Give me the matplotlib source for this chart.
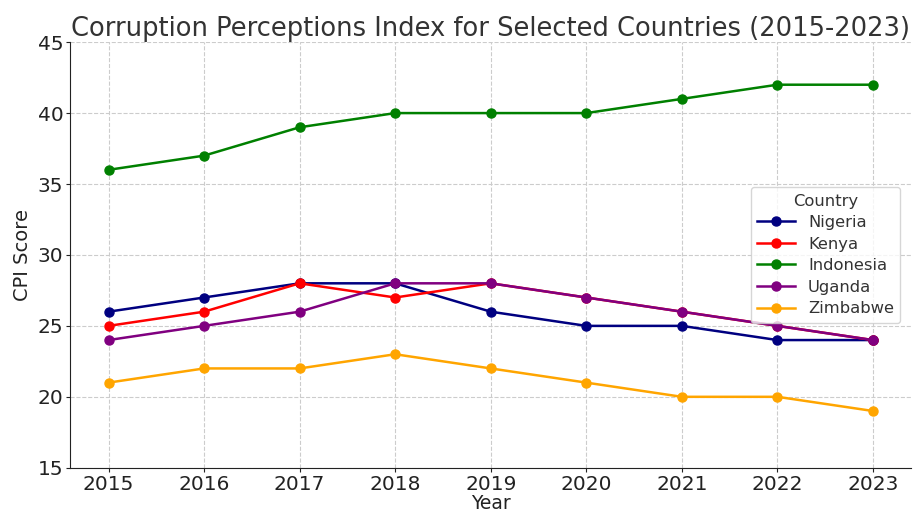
import matplotlib
matplotlib.use("Agg")
import matplotlib.pyplot as plt

years = [2015, 2016, 2017, 2018, 2019, 2020, 2021, 2022, 2023]
nigeria = [26, 27, 28, 28, 26, 25, 25, 24, 24]
kenya = [25, 26, 28, 27, 28, 27, 26, 25, 24]
indonesia = [36, 37, 39, 40, 40, 40, 41, 42, 42]
uganda = [24, 25, 26, 28, 28, 27, 26, 25, 24]
zimbabwe = [21, 22, 22, 23, 22, 21, 20, 20, 19]

series = [
    ("Nigeria", nigeria, "navy"),
    ("Kenya", kenya, "red"),
    ("Indonesia", indonesia, "green"),
    ("Uganda", uganda, "purple"),
    ("Zimbabwe", zimbabwe, "orange"),
]

fig, ax = plt.subplots(figsize=(9.13, 5.14), dpi=100)
fig.subplots_adjust(left=0.077, right=0.998, top=0.918, bottom=0.09)

for name, vals, col in series:
    ax.plot(years, vals, "-o", color=col, lw=1.8, ms=6.5, label=name)

ax.set_title("Corruption Perceptions Index for Selected Countries (2015-2023)",
             fontsize=18.5, color="#333333", pad=4)
ax.set_xlabel("Year", fontsize=13.5, color="#222222", labelpad=0)
ax.set_ylabel("CPI Score", fontsize=14, color="#222222", labelpad=4)
ax.set_ylim(15, 45)
ax.set_xlim(2014.6, 2023.4)
ax.set_xticks(years)
ax.tick_params(labelsize=14.5, length=3, pad=2, colors="#222222")
ax.grid(True, ls="--", color="#cccccc", lw=0.8)
for s in ("top", "right"):
    ax.spines[s].set_visible(False)
for s in ("left", "bottom"):
    ax.spines[s].set_color("#222222")
leg = ax.legend(title="Country", loc="center right", fontsize=11.8, title_fontsize=11.8,
                bbox_to_anchor=(0.997, 0.5), handlelength=2.3, labelspacing=0.4)
for t in leg.get_texts():
    t.set_color("#333333")
leg.get_title().set_color("#333333")

fig.savefig("out.png", dpi=100)
